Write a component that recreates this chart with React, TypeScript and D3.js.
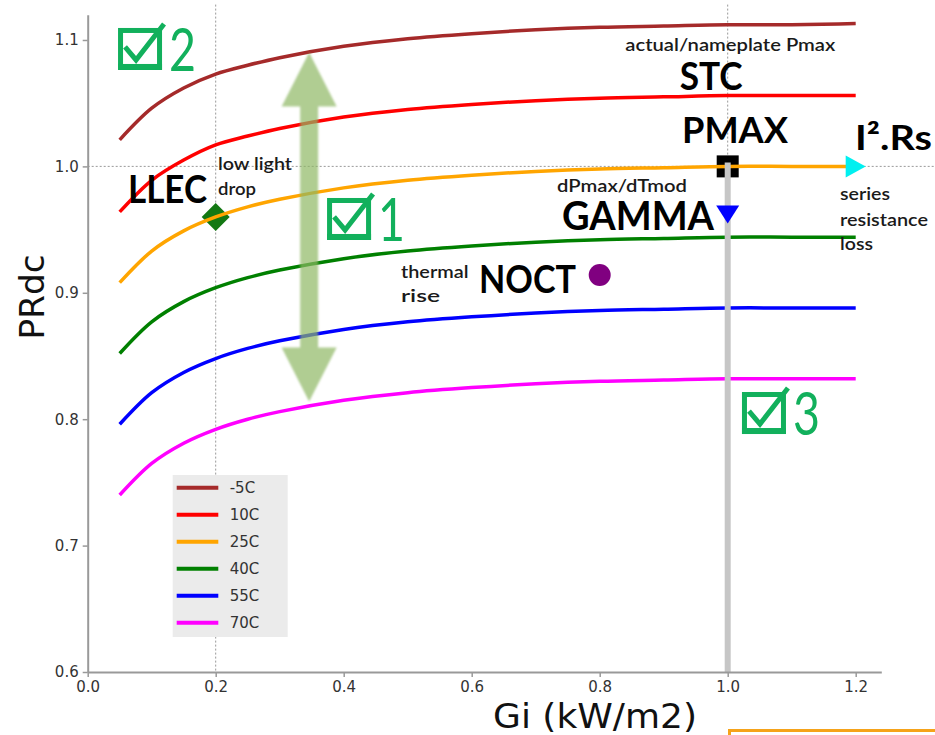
import React, { useEffect, useRef } from "react";
import * as d3 from "d3";

// DATA
const gi = [0.05, 0.1, 0.15, 0.2, 0.25, 0.3, 0.4, 0.5, 0.6, 0.7, 0.8, 0.9, 1.0, 1.1, 1.2];
const prM5 = [1.021, 1.046, 1.062, 1.073, 1.08, 1.086, 1.095, 1.101, 1.105, 1.108, 1.11, 1.111, 1.112, 1.112, 1.113];
const pr10 = [0.964, 0.989, 1.005, 1.017, 1.024, 1.03, 1.039, 1.045, 1.049, 1.052, 1.054, 1.055, 1.056, 1.056, 1.056];
const pr25 = [0.908, 0.933, 0.949, 0.96, 0.968, 0.974, 0.983, 0.989, 0.993, 0.996, 0.998, 0.999, 1.0, 1.0, 1.0];
const pr40 = [0.852, 0.877, 0.893, 0.904, 0.912, 0.918, 0.927, 0.933, 0.937, 0.94, 0.942, 0.943, 0.944, 0.944, 0.944];
const pr55 = [0.796, 0.821, 0.837, 0.848, 0.856, 0.862, 0.871, 0.877, 0.881, 0.884, 0.886, 0.887, 0.888, 0.888, 0.888];
const pr70 = [0.74, 0.765, 0.781, 0.792, 0.8, 0.806, 0.815, 0.821, 0.825, 0.828, 0.83, 0.831, 0.832, 0.832, 0.832];

const seriesNames = ["-5C", "10C", "25C", "40C", "55C", "70C"];
const seriesValues = [prM5, pr10, pr25, pr40, pr55, pr70];
const seriesColors = ["#a52a2a", "#ff0000", "#ffa500", "#008000", "#0000ff", "#ff00ff"];

const xTicks = [0, 0.2, 0.4, 0.6, 0.8, 1.0, 1.2];
const yTicks = [0.6, 0.7, 0.8, 0.9, 1.0, 1.1];

// marker points (Gi, PRdc)
const llecPoint = [0.2, 0.96];
const pmaxPoint = [1.0, 1.0];
const gammaPoint = [1.0, 0.962];
const rsPoint = [1.2, 1.0];
const noctPoint = [0.8, 0.914];

const W = 935;
const H = 735;
const GREEN = "#12b05c";
const ANNO_FONT = "Lato, 'Open Sans', sans-serif";

function CheckBox({ x0, y0, digit }: { x0: number; y0: number; digit: string }) {
  return (
    <g>
      <rect x={x0 + 2.5} y={y0 + 2.5} width={39} height={37} fill="none" stroke={GREEN} strokeWidth={5} />
      <rect x={x0} y={y0 + 36} width={44} height={6} fill={GREEN} />
      <polyline
        points={`${x0 + 7},${y0 + 19} ${x0 + 18},${y0 + 32} ${x0 + 46},${y0 - 4}`}
        fill="none"
        stroke={GREEN}
        strokeWidth={5}
        strokeLinejoin="miter"
      />
      <text
        x={x0 + 51}
        y={y0 + 43}
        fontFamily={ANNO_FONT}
        fontSize={60}
        fill={GREEN}
        textLength={27}
        lengthAdjust="spacingAndGlyphs"
      >
        {digit}
      </text>
    </g>
  );
}

export default function App() {
  const xAxisRef = useRef<SVGGElement>(null);
  const yAxisRef = useRef<SVGGElement>(null);

  const x = d3.scaleLinear().domain([0, 1.24]).range([87.7, 881.3]);
  const y = d3.scaleLinear().domain([0.6, 1.12]).range([672, 14.7]);

  useEffect(() => {
    const fmt = d3.format(".1f");
    const xa = d3.select(xAxisRef.current!);
    xa.call(d3.axisBottom(x).tickValues(xTicks).tickSize(5).tickSizeOuter(0).tickPadding(4).tickFormat((d) => fmt(d as number)));
    const ya = d3.select(yAxisRef.current!);
    ya.call(d3.axisLeft(y).tickValues(yTicks).tickSize(5).tickSizeOuter(0).tickPadding(4).tickFormat((d) => fmt(d as number)));
    [xa, ya].forEach((g) => {
      g.attr("font-family", "'DejaVu Sans', sans-serif").attr("font-size", 15);
      g.select(".domain").attr("stroke", "#999").attr("stroke-width", 2);
      g.selectAll(".tick line").attr("stroke", "#999").attr("stroke-width", 1.5);
      g.selectAll(".tick text").attr("fill", "#333");
    });
  }, []);

  const line = d3
    .line<number>()
    .x((_, i) => x(gi[i]))
    .y((d) => y(d))
    .curve(d3.curveCatmullRom.alpha(0.5));

  // double arrow at Gi = 0.346
  const ax = x(0.346);
  const at = y(1.09);
  const ab = y(0.814);
  const hw = 27.5;
  const sw = 9;
  const hl = 54;
  const arrowPath = `M${ax},${at} L${ax + hw},${at + hl} L${ax + sw},${at + hl} L${ax + sw},${ab - hl} L${ax + hw},${ab - hl} L${ax},${ab} L${ax - hw},${ab - hl} L${ax - sw},${ab - hl} L${ax - sw},${at + hl} L${ax - hw},${at + hl} Z`;

  const legendX = 172.7;
  const legendY = 475;

  const txt = (
    s: string,
    gx: number,
    gy: number,
    size: number,
    len: number,
    weight: number | string = 700,
    color = "#000"
  ) => (
    <text
      x={x(gx)}
      y={y(gy)}
      fontFamily={ANNO_FONT}
      fontSize={size}
      fontWeight={weight}
      fill={color}
      textLength={len}
      lengthAdjust="spacingAndGlyphs"
    >
      {s}
    </text>
  );

  const [lx, ly] = llecPoint;
  const [px, py] = pmaxPoint;
  const [gx, gy] = gammaPoint;
  const [rx, ry] = rsPoint;
  const [nx, ny] = noctPoint;

  return (
    <svg width={W} height={H} style={{ position: "absolute", left: 0, top: 0, background: "#fff" }}>
      <defs>
        <filter id="soft" x="-20%" y="-10%" width="140%" height="120%">
          <feGaussianBlur stdDeviation="0.8" />
        </filter>
      </defs>

      {/* dotted reference lines */}
      <g stroke="#999" strokeWidth={1} strokeDasharray="2,2" fill="none">
        <line x1={x(0.2)} x2={x(0.2)} y1={y(1.128)} y2={y(0.6)} />
        <line x1={x(1.0)} x2={x(1.0)} y1={y(1.128)} y2={y(1.0)} />
        <line x1={x(0)} x2={W} y1={y(1.0)} y2={y(1.0)} />
      </g>

      {/* legend */}
      <rect x={legendX} y={legendY} width={115} height={162} fill="#ebebeb" />
      {seriesNames.map((n, i) => (
        <g key={n} transform={`translate(${legendX},${legendY + 12.7 + i * 27})`}>
          <line x1={4} x2={45.6} y1={0} y2={0} stroke={seriesColors[i]} strokeWidth={4} />
          <text x={57} y={0} dy="0.36em" fontFamily="'DejaVu Sans', sans-serif" fontSize={15} fill="#333">
            {n}
          </text>
        </g>
      ))}

      {/* markers under the curves */}
      <path
        d={`M${x(lx)},${y(ly) - 14} L${x(lx) + 14},${y(ly)} L${x(lx)},${y(ly) + 14} L${x(lx) - 14},${y(ly)} Z`}
        fill="#137813"
      />
      <rect x={x(px) - 11} y={y(py) - 11} width={22} height={22} fill="#000" />

      {/* curves */}
      {seriesValues.map((vals, i) => (
        <path key={seriesNames[i]} d={line(vals) || ""} fill="none" stroke={seriesColors[i]} strokeWidth={3.5} />
      ))}

      {/* STC vertical */}
      <line x1={x(1.0)} x2={x(1.0)} y1={y(1.003)} y2={y(0.6)} stroke="#c6c6c6" strokeWidth={6} />

      {/* markers above */}
      <path
        d={`M${x(gx) - 11.5},${y(gy) - 9} L${x(gx) + 11.5},${y(gy) - 9} L${x(gx)},${y(gy) + 9} Z`}
        fill="#0000ff"
      />
      <path
        d={`M${x(rx) - 10},${y(ry) - 11} L${x(rx) + 10},${y(ry)} L${x(rx) - 10},${y(ry) + 11} Z`}
        fill="#00f0f0"
      />
      <circle cx={x(nx)} cy={y(ny)} r={11} fill="#800080" />

      {/* axes */}
      <g ref={xAxisRef} transform={`translate(0,${y(0.6)})`} />
      <g ref={yAxisRef} transform={`translate(${x(0)},0)`} />

      <text
        transform={`translate(44,297) rotate(-90)`}
        textAnchor="middle"
        fontFamily="'DejaVu Sans', sans-serif"
        fontSize={34}
        fill="#111"
        textLength={85}
        lengthAdjust="spacingAndGlyphs"
      >
        PRdc
      </text>
      <text
        x={595}
        y={728}
        textAnchor="middle"
        fontFamily="'DejaVu Sans', sans-serif"
        fontSize={34}
        fill="#111"
        textLength={204}
        lengthAdjust="spacingAndGlyphs"
      >
        Gi (kW/m2)
      </text>

      {/* green double arrow */}
      <path d={arrowPath} fill="#8fb865" opacity={0.7} filter="url(#soft)" />

      {/* annotations */}
      {txt("LLEC", 0.063, 0.971, 39, 79)}
      {txt("low light", 0.2036, 0.997, 17, 74, 600, "#1a1a1a")}
      {txt("drop", 0.2036, 0.977, 17, 38, 600, "#1a1a1a")}
      {txt("actual/nameplate Pmax", 0.84, 1.0912, 16.5, 210, 600, "#1a1a1a")}
      {txt("STC", 0.925, 1.0604, 39, 63)}
      {txt("PMAX", 0.9286, 1.0185, 37, 106)}
      {txt("I².Rs", 1.1989, 1.013, 34, 77)}
      {txt("series", 1.1755, 0.9731, 16.5, 50, 600, "#1a1a1a")}
      {txt("resistance", 1.1755, 0.9528, 16.5, 88, 600, "#1a1a1a")}
      {txt("loss", 1.1755, 0.9335, 16.5, 33, 600, "#1a1a1a")}
      {txt("dPmax/dTmod", 0.7333, 0.9797, 17, 130, 600, "#1a1a1a")}
      {txt("GAMMA", 0.7411, 0.9497, 40, 152)}
      {txt("thermal", 0.4895, 0.9117, 16.5, 67.5, 600, "#1a1a1a")}
      {txt("rise", 0.4895, 0.893, 16.5, 39, 600, "#1a1a1a")}
      {txt("NOCT", 0.6114, 0.9, 38, 97)}

      {/* check boxes */}
      <CheckBox x0={x(0.0474)} y0={y(1.1095)} digit="2" />
      <CheckBox x0={x(0.374)} y0={y(0.975)} digit="1" />
      <CheckBox x0={x(1.0223)} y0={y(0.8215)} digit="3" />

      {/* cut-off box at the bottom */}
      <rect x={729.5} y={730.5} width={220} height={30} fill="none" stroke="#f5a31a" strokeWidth={3} />
    </svg>
  );
}
